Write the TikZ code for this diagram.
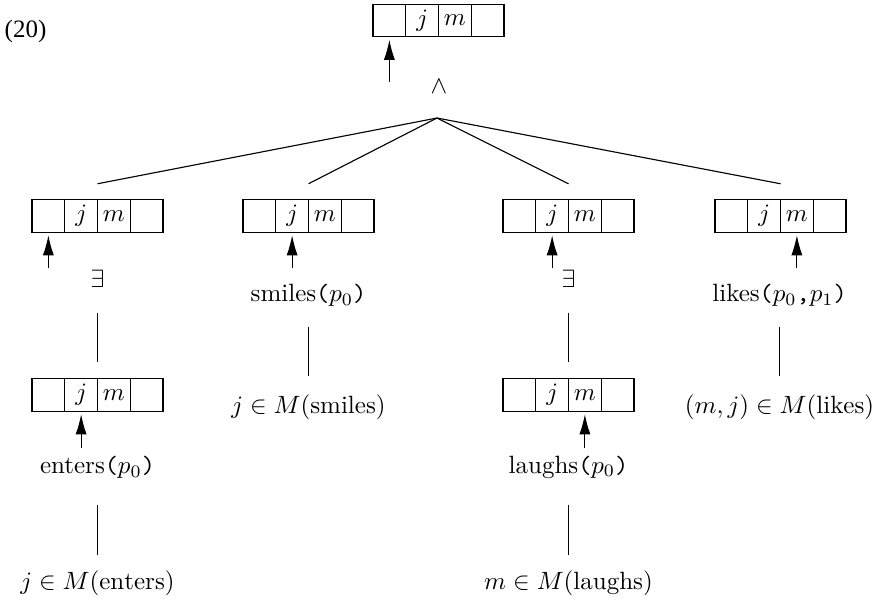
\documentclass[tikz,border=0pt]{standalone}
\usepackage{fontspec}
\newfontfamily\numfont{Liberation Serif}
\usetikzlibrary{arrows.meta,calc}

\tikzset{
  cell/.style={draw, line width=0.5pt, minimum width=13.1pt, minimum height=13pt,
               inner sep=0pt, outer sep=0pt},
  lbl/.style={inner sep=1pt},
  up/.style={line width=0.45pt, -{Latex[length=8pt,width=4.4pt]}, shorten >=1.2pt},
  edge/.style={line width=0.45pt}
}

% four-cell register; #1 = name, #2 = left end of its middle line
\newcommand\register[2]{%
  \node[cell, anchor=west] (#1-1) at (#2) {};
  \node[cell, anchor=west] (#1-2) at (#1-1.east) {$j$};
  \node[cell, anchor=west] (#1-3) at (#1-2.east) {$m$};
  \node[cell, anchor=west] (#1-4) at (#1-3.east) {};
}
\newcommand\pp[1]{\texttt{(}#1\texttt{)}}

\begin{document}
\begin{tikzpicture}[x=0.4pt, y=-0.4pt]
  \useasboundingbox (0,0) rectangle (878,602);

  \node[lbl] (num) at (25.5,31) {\numfont (20)};

  % registers
  \register{R0}{373,20.5}
  \register{R1}{32,216}
  \register{R2}{243,216}
  \register{R3}{503,216}
  \register{R4}{715,216}
  \register{R5}{32,395}
  \register{R6}{503,395}

  % labels
  \node[lbl] (and) at (439,87) {$\wedge$};
  \node[lbl] (ex1) at (97.5,279) {$\exists$};
  \node[lbl] (ex3) at (568.5,279) {$\exists$};
  \node[lbl] (smiles) at (308.5,295) {smiles\pp{$p_0$}};
  \node[lbl] (likes) at (779.5,295) {likes\pp{$p_0$\texttt{,}$p_1$}};
  \node[lbl] (insm) at (308.5,407) {$j\in M(\mathrm{smiles})$};
  \node[lbl] (inli) at (779.5,407) {$(m,j)\in M(\mathrm{likes})$};
  \node[lbl] (enters) at (97.5,467) {enters\pp{$p_0$}};
  \node[lbl] (laughs) at (568.5,467) {laughs\pp{$p_0$}};
  \node[lbl] (inen) at (97.5,583) {$j\in M(\mathrm{enters})$};
  \node[lbl] (inla) at (568.5,583) {$m\in M(\mathrm{laughs})$};

  % fan from the conjunction
  \coordinate (apex) at ($(and)+(-2,31)$);
  \foreach \r in {R1,R2,R3,R4}
    \draw[edge] (apex) -- ($(\r-2.north east)+(0,-16)$);

  % vertical links
  \draw[edge] ($(R5-2.north east |- ex1)+(0,34)$) -- ($(R5-2.north east)+(0,-17)$);
  \draw[edge] ($(R6-2.north east |- ex3)+(0,34)$) -- ($(R6-2.north east)+(0,-17)$);
  \draw[edge] ($(smiles)+(0,32)$) -- ($(smiles |- insm)+(0,-31)$);
  \draw[edge] ($(likes)+(0,32)$) -- ($(likes |- inli)+(0,-31)$);
  \draw[edge] ($(enters)+(0,38)$) -- ($(enters |- inen)+(0,-28)$);
  \draw[edge] ($(laughs)+(0,38)$) -- ($(laughs |- inla)+(0,-28)$);

  % pointers into the registers
  \draw[up] ($(R0-1.south)+(0,45)$) -- (R0-1.south);
  \draw[up] ($(R1-1.south)+(0,36)$) -- (R1-1.south);
  \draw[up] ($(R2-2.south)+(0,36)$) -- (R2-2.south);
  \draw[up] ($(R3-2.south)+(0,36)$) -- (R3-2.south);
  \draw[up] ($(R4-3.south)+(0,36)$) -- (R4-3.south);
  \draw[up] ($(R5-2.south)+(0,37)$) -- (R5-2.south);
  \draw[up] ($(R6-3.south)+(0,37)$) -- (R6-3.south);
\end{tikzpicture}
\end{document}
